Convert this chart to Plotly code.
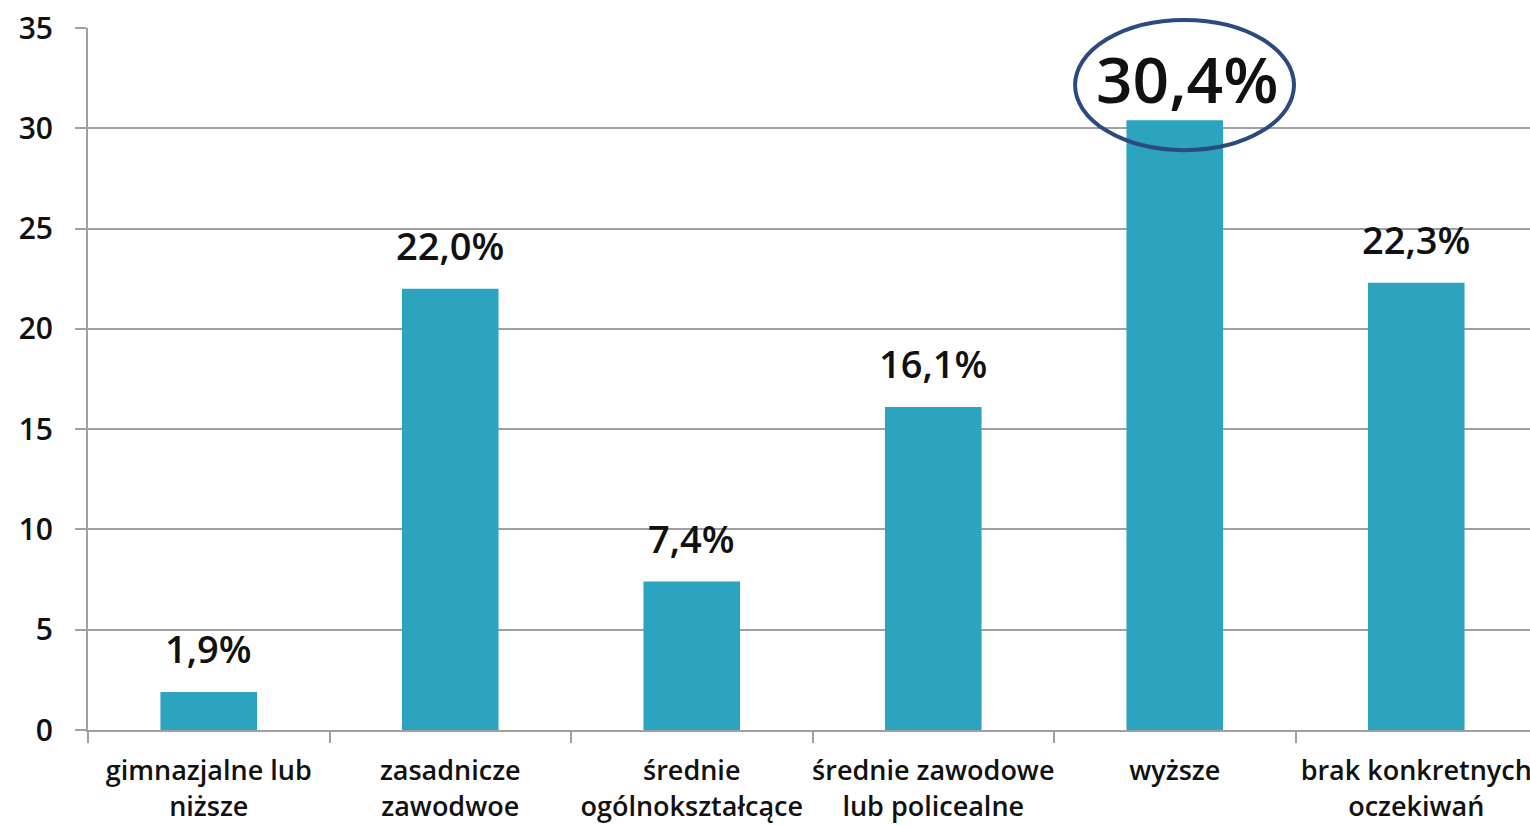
import plotly.graph_objects as go

categories = ["gimnazjalne lub<br>niższe", "zasadnicze<br>zawodwoe", "średnie<br>ogólnokształcące",
              "średnie zawodowe<br>lub policealne", "wyższe", "brak konkretnych<br>oczekiwań"]
values = [1.9, 22.0, 7.4, 16.1, 30.4, 22.3]
labels = ["1,9%", "22,0%", "7,4%", "16,1%", "30,4%", "22,3%"]
y_ticks = [0, 5, 10, 15, 20, 25, 30, 35]

FONT = "Open Sans"
fig = go.Figure()
fig.add_trace(go.Bar(x=categories, y=values, marker=dict(color="#2CA3BF", line=dict(width=0)),
                     width=0.4, hoverinfo="skip"))

max_v = max(values)
for c, v, t in zip(categories, values, labels):
    big = v == max_v
    fig.add_annotation(x=c, y=v, text=t, showarrow=False, yanchor="bottom",
                       yshift=(-4 if big else 16),
                       xshift=(12 if big else 0),
                       font=dict(family=FONT, size=(64 if big else 38), color="#111111", weight=600))

fig.add_shape(type="circle", xref="paper", yref="paper", x0=0.6812, x1=0.8323, y0=0.826, y1=1.0114,
              line=dict(color="#2B4A7E", width=4))

grid = "#A0A0A0"
fig.update_layout(
    width=1537, height=825, plot_bgcolor="white", paper_bgcolor="white",
    margin=dict(l=88, r=0, t=28, b=95), showlegend=False, bargap=0.6,
    xaxis=dict(range=[-0.5, 5.5], showline=True, linecolor=grid, linewidth=2, automargin=False,
               ticks="outside", tickson="boundaries", ticklen=11, tickcolor=grid, tickwidth=2,
               tickangle=0,
               tickfont=dict(family=FONT, size=27, color="#111111", weight=600),
               ticklabelstandoff=16, showgrid=False),
    yaxis=dict(range=[0, 35], tickvals=y_ticks, showline=True, linecolor=grid, linewidth=2,
               automargin=False,
               gridcolor=grid, gridwidth=2, ticks="outside", ticklen=11, tickcolor=grid, tickwidth=2,
               tickfont=dict(family=FONT, size=30, color="#111111", weight=600),
               ticklabelstandoff=16, zeroline=False),
)
fig.write_html("out.html", config={"displayModeBar": False},
               post_script="document.body.style.margin='0px';document.body.style.overflow='hidden';")
